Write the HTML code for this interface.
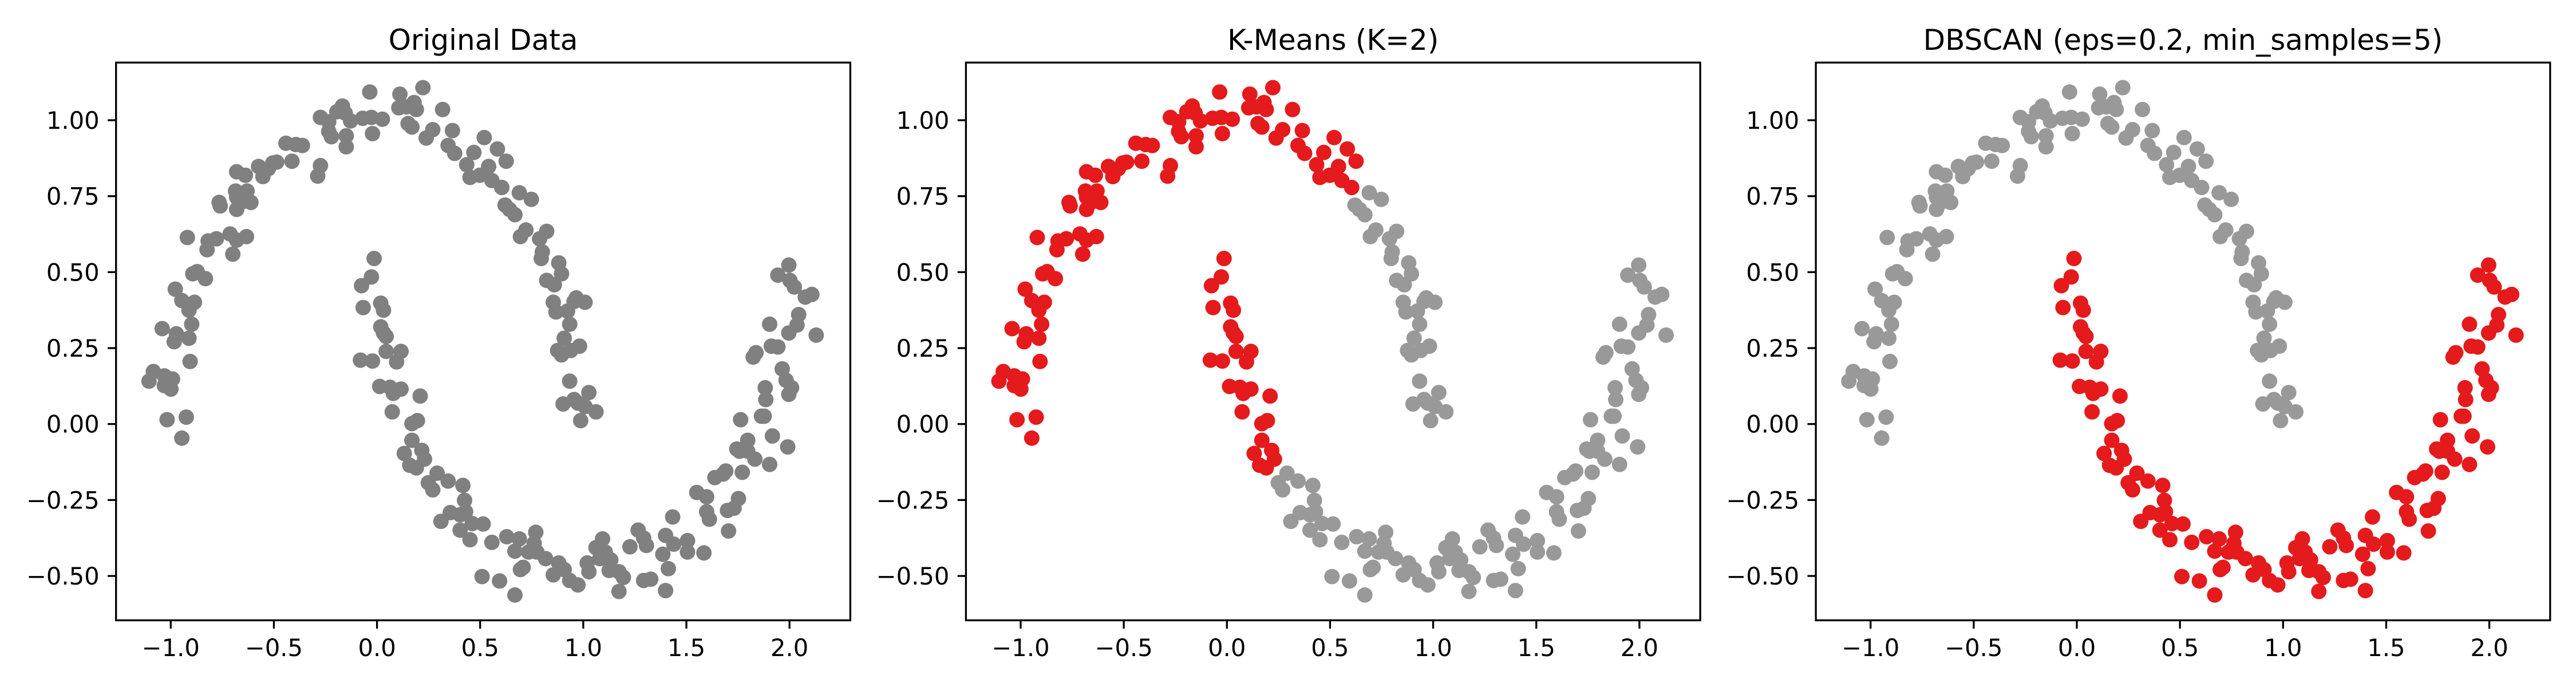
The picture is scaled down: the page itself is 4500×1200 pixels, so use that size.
<!DOCTYPE html>
<html><head><meta charset="utf-8"><style>html,body{margin:0;padding:0;background:#fff}svg{display:block}</style></head>
<body>
<svg id="s" xmlns="http://www.w3.org/2000/svg" width="4500" height="1200" viewBox="0 0 4500 1200" font-family="DejaVu Sans, Liberation Sans, sans-serif"></svg>
<script>
var P=[[272,870],[280,848],[300,858],[315,865],[300,880],[312,888],[305,958],[340,952],[332,1000],[296,750],[322,762],[318,780],[345,772],[347,825],[320,660],[332,686],[345,708],[355,690],[350,740],[342,542],[352,625],[360,620],[375,636],[380,550],[378,570],[400,462],[402,470],[395,545],[420,534],[425,580],[432,548],[450,540],[432,392],[448,400],[432,450],[440,462],[432,478],[458,462],[430,436],[451,436],[472,380],[480,403],[490,385],[498,372],[505,370],[522,327],[533,368],[540,330],[552,332],[580,402],[585,378],[585,268],[600,300],[600,278],[605,312],[615,255],[625,242],[630,258],[632,310],[632,335],[640,276],[662,270],[675,210],[678,268],[680,305],[698,272],[730,215],[728,246],[742,244],[745,282],[756,234],[760,250],[752,290],[772,200],[778,315],[790,296],[808,250],[818,332],[826,298],[830,350],[852,376],[865,348],[858,405],[884,314],[876,400],[892,380],[898,412],[908,340],[916,428],[924,368],[922,468],[930,478],[948,440],[950,540],[960,525],[970,455],[940,490],[985,545],[998,528],[990,575],[988,590],[998,640],[1012,650],[1020,600],[1025,625],[1010,690],[1015,712],[1040,740],[1036,710],[1048,688],[1052,680],[1068,690],[1030,772],[1018,800],[1025,810],[1042,800],[1058,790],[1040,870],[1028,922],[1048,912],[1055,920],[1075,896],[1060,960],[1088,940],[1068,928],
[683,590],[678,632],[660,652],[663,702],[695,692],[700,708],[695,746],[700,760],[705,768],[658,822],[680,824],[705,802],[732,802],[724,826],[693,882],[712,884],[718,898],[732,888],[716,940],[767,904],[752,967],[762,960],[752,1005],[738,1035],[770,1028],[775,1048],[748,1062],[760,1068],[798,1080],[782,1102],[790,1118],[818,1098],[845,1108],[848,1142],[822,1170],[805,1190],[840,1175],[850,1168],[840,1210],[862,1195],[858,1232],[882,1196],[898,1238],[880,1316],[912,1326],[925,1225],[940,1258],[948,1230],[950,1300],[940,1358],[955,1295],[965,1260],[975,1240],[978,1215],[980,1260],[996,1275],[1010,1312],[1020,1285],[1030,1300],[1040,1325],[1055,1335],[1072,1285],[1075,1305],[1088,1250],[1095,1275],[1100,1230],[1105,1260],[1112,1302],[1115,1278],[1130,1305],[1138,1318],[1130,1350],[1150,1248],[1165,1210],[1175,1228],[1175,1325],[1180,1245],[1188,1322],[1210,1265],[1215,1222],[1220,1298],[1215,1348],[1228,1180],[1230,1242],[1255,1234],[1255,1260],[1272,1124],[1285,1262],[1290,1134],[1290,1168],[1295,1185],[1305,1090],[1320,1082],[1325,1075],[1328,1165],[1330,1212],[1340,1160],[1345,1025],[1348,1138],[1350,1030],[1352,958],[1355,1078],[1365,1030],[1378,1048],[1365,1005],[1375,815],[1380,805],[1390,950],[1395,950],[1398,912],[1397,885],[1405,740],[1405,1060],[1408,790],[1410,995],[1420,792],[1420,628],[1428,842],[1435,868],[1438,1020],[1440,605],[1440,760],[1440,900],[1445,885],[1442,640],[1450,655],[1455,742],[1458,718],[1470,678],[1482,672],[1490,765]];
var L=202.7,T=109.3,W=1282.7,H=974.2,DX=1484.7;
var titles=["Original Data","K-Means (K=2)","DBSCAN (eps=0.2, min_samples=5)"];
var h='';
function fmtY(v){var s=v.toFixed(2);return v<0?'\u2212'+s.slice(1):s;}
function fmtX(v){var s=v.toFixed(1);return v<0?'\u2212'+s.slice(1):s;}
for(var p=0;p<3;p++){
 var o=p*DX;
 for(var i=0;i<P.length;i++){
  var zx=P[i][0],zy=P[i][1];
  var x=(zx-688)/376.7,y=(967.7-zy)/692.7;
  var c='#808080';
  if(p==1){c=((x-0.25)*0.95-(y+0.15)*0.37<0)?'#e41a1c':'#999999';}
  if(p==2){var d1=Math.abs(Math.hypot(x,y)-1),d2=Math.abs(Math.hypot(x-1,y-0.5)-1);c=(y<-0.07||(d2<d1&&y<0.6))?'#e41a1c':'#999999';}
  h+='<circle cx="'+(zx/1.045+o).toFixed(1)+'" cy="'+(zy/1.3067).toFixed(1)+'" r="13.5" fill="'+c+'"/>';
 }
 h+='<rect x="'+(L+o)+'" y="'+T+'" width="'+W+'" height="'+H+'" fill="none" stroke="#000" stroke-width="3.3"/>';
 for(var v=-1;v<=2.001;v+=0.5){var X=658.6+v*360.3+o;
  h+='<line x1="'+X+'" y1="'+(T+H)+'" x2="'+X+'" y2="'+(T+H+14.6)+'" stroke="#000" stroke-width="3.3"/>';
  h+='<text x="'+X+'" y="1146" font-size="41.7" text-anchor="middle">'+fmtX(v)+'</text>';}
 for(var v=-0.5;v<=1.001;v+=0.25){var Y=740.7-v*530.7;
  h+='<line x1="'+(L+o)+'" y1="'+Y+'" x2="'+(L+o-14.6)+'" y2="'+Y+'" stroke="#000" stroke-width="3.3"/>';
  h+='<text x="'+(L+o-29)+'" y="'+(Y+15)+'" font-size="41.7" text-anchor="end">'+fmtY(v)+'</text>';}
 h+='<text x="'+(L+o+W/2)+'" y="87" font-size="50" text-anchor="middle">'+titles[p]+'</text>';
}
document.getElementById('s').innerHTML=h;
</script>
</body></html>
